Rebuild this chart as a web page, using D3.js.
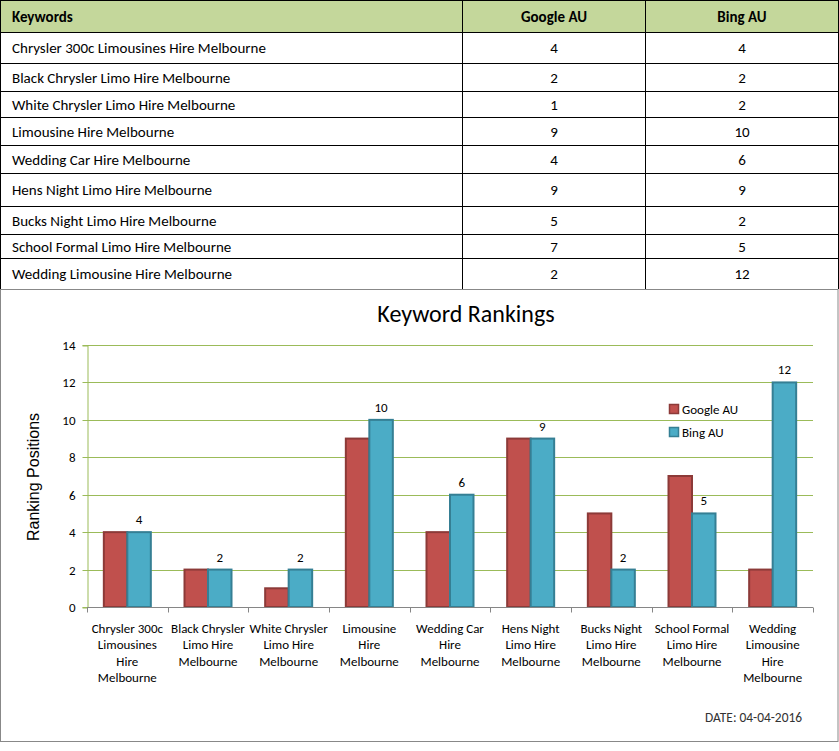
<!DOCTYPE html>
<html><head><meta charset="utf-8">
<script src="https://cdn.jsdelivr.net/npm/d3@7"></script>
<style>
html,body{margin:0;padding:0;background:#fff;}
svg{display:block;}
</style></head>
<body>
<svg id="c" width="839" height="751"></svg>
<script>
// ---------- data ----------
const keywords = [
  "Chrysler 300c Limousines Hire Melbourne",
  "Black Chrysler Limo Hire Melbourne",
  "White Chrysler Limo Hire Melbourne",
  "Limousine Hire Melbourne",
  "Wedding Car Hire Melbourne",
  "Hens Night Limo Hire Melbourne",
  "Bucks Night Limo Hire Melbourne",
  "School Formal Limo Hire Melbourne",
  "Wedding Limousine Hire Melbourne"
];
const googleAU = [4, 2, 1, 9, 4, 9, 5, 7, 2];
const bingAU   = [4, 2, 2, 10, 6, 9, 2, 5, 12];
const categoryLabels = [
  ["Chrysler 300c", "Limousines", "Hire", "Melbourne"],
  ["Black Chrysler", "Limo Hire", "Melbourne"],
  ["White Chrysler", "Limo Hire", "Melbourne"],
  ["Limousine", "Hire", "Melbourne"],
  ["Wedding Car", "Hire", "Melbourne"],
  ["Hens Night", "Limo Hire", "Melbourne"],
  ["Bucks Night", "Limo Hire", "Melbourne"],
  ["School Formal", "Limo Hire", "Melbourne"],
  ["Wedding", "Limousine", "Hire", "Melbourne"]
];
const seriesNames = ["Google AU", "Bing AU"];
const tableHeaders = ["Keywords", "Google AU", "Bing AU"];
const yTicks = [0, 2, 4, 6, 8, 10, 12, 14];
const chartTitle = "Keyword Rankings";
const yAxisTitle = "Ranking Positions";
const dateText = "DATE: 04-04-2016";

// ---------- layout ----------
const FONT = "Carlito, Calibri, Lato, sans-serif";
const svg = d3.select("#c");
const W = 839;
const colEdges = [0.5, 462.5, 645.5, 838.5];
const rowEdges = [0.5, 32.5, 63.5, 91.5, 117.5, 145.5, 173.5, 206.5, 234.5, 258.5, 289];
const red = "#C0504D", redDark = "#8C3A38";
const blue = "#4BACC6", blueDark = "#357F94";
const grid = "#9BBB59";

// ---------- table ----------
const tbl = svg.append("g");
tbl.append("rect").attr("x", 0.5).attr("y", 0.5).attr("width", 838).attr("height", 32)
  .attr("fill", "#C4D79B");
tbl.selectAll("line.h").data(rowEdges.slice(0, -1)).join("line")
  .attr("x1", 0).attr("x2", W).attr("y1", d => d).attr("y2", d => d)
  .attr("stroke", "#000").attr("stroke-width", 1);
tbl.selectAll("line.v").data(colEdges).join("line")
  .attr("x1", d => d).attr("x2", d => d).attr("y1", 0).attr("y2", 289)
  .attr("stroke", "#000").attr("stroke-width", 1);
const colCenters = [12, (colEdges[1] + colEdges[2]) / 2, (colEdges[2] + colEdges[3]) / 2];
tbl.selectAll("text.hd").data(tableHeaders).join("text")
  .attr("x", (d, i) => colCenters[i]).attr("y", 17)
  .attr("text-anchor", (d, i) => i === 0 ? "start" : "middle")
  .attr("dominant-baseline", "central")
  .attr("font-family", FONT).attr("font-size", 15).attr("font-weight", "bold")
  .attr("fill", "#000").text(d => d);
const rowsData = keywords.map((k, i) => [k, googleAU[i], bingAU[i]]);
rowsData.forEach((row, r) => {
  const cy = (rowEdges[r + 1] + rowEdges[r + 2]) / 2;
  row.forEach((v, c) => {
    tbl.append("text")
      .attr("x", colCenters[c]).attr("y", cy)
      .attr("text-anchor", c === 0 ? "start" : "middle")
      .attr("dominant-baseline", "central")
      .attr("font-family", FONT).attr("font-size", 15)
      .attr("fill", "#000").text(v);
  });
});

// ---------- chart ----------
const chart = svg.append("g");
chart.append("rect").attr("x", 0.5).attr("y", 289.5).attr("width", 837.5).attr("height", 452)
  .attr("fill", "#fff").attr("stroke", "#888").attr("stroke-width", 1);

const x = d3.scaleBand().domain(d3.range(keywords.length)).range([87, 813]).paddingInner(0).paddingOuter(0);
const y = d3.scaleLinear().domain([0, 14]).range([607, 345]);
const barW = 23.5;

chart.selectAll("line.grid").data(yTicks.filter(t => t > 0)).join("line")
  .attr("x1", 87).attr("x2", 813)
  .attr("y1", d => Math.round(y(d)) + 0.5).attr("y2", d => Math.round(y(d)) + 0.5)
  .attr("stroke", grid).attr("stroke-width", 1);

const yAxis = chart.append("g").attr("transform", "translate(87.5,0.5)")
  .call(d3.axisLeft(y).tickValues(yTicks).tickSize(5).tickPadding(7));
yAxis.select(".domain").attr("stroke", grid);
yAxis.selectAll(".tick line").attr("stroke", grid);
yAxis.selectAll(".tick").attr("transform", d => `translate(0,${Math.round(y(d))})`);
yAxis.selectAll("text").attr("font-family", FONT).attr("font-size", 13).attr("fill", "#000");

const groups = chart.selectAll("g.cat").data(keywords.map((k, i) => i)).join("g")
  .attr("transform", i => `translate(${x(i) + x.bandwidth() / 2},0)`);
groups.append("rect")
  .attr("x", -barW).attr("width", barW)
  .attr("y", i => y(googleAU[i])).attr("height", i => y(0) - y(googleAU[i]))
  .attr("fill", red).attr("stroke", redDark).attr("stroke-width", 2);
groups.append("rect")
  .attr("x", 0).attr("width", barW)
  .attr("y", i => y(bingAU[i])).attr("height", i => y(0) - y(bingAU[i]))
  .attr("fill", blue).attr("stroke", blueDark).attr("stroke-width", 2);
groups.append("text")
  .attr("x", barW / 2).attr("y", i => y(bingAU[i]) - 8)
  .attr("text-anchor", "middle")
  .attr("font-family", FONT).attr("font-size", 13).attr("fill", "#000")
  .text(i => bingAU[i]);

const xAxisG = chart.append("g").attr("transform", "translate(0,607.5)");
xAxisG.append("line").attr("x1", 87).attr("x2", 813).attr("y1", 0).attr("y2", 0)
  .attr("stroke", "#868686");
const tickXs = d3.range(keywords.length + 1).map(i => i < keywords.length ? x(i) : x(i - 1) + x.bandwidth());
xAxisG.selectAll("line.t").data(tickXs).join("line")
  .attr("x1", d => Math.round(d) + 0.5).attr("x2", d => Math.round(d) + 0.5)
  .attr("y1", 0).attr("y2", 5).attr("stroke", "#868686");
xAxisG.selectAll("text.cl").data(categoryLabels).join("text")
  .attr("x", (d, i) => x(i) + x.bandwidth() / 2)
  .attr("y", 0)
  .attr("text-anchor", "middle")
  .attr("font-family", FONT).attr("font-size", 13).attr("fill", "#000")
  .each(function (lines) {
    const t = d3.select(this);
    lines.forEach((ln, j) => {
      t.append("tspan").attr("x", t.attr("x")).attr("y", 25.5 + j * 16.3).text(ln);
    });
  });

chart.append("text").attr("x", 466).attr("y", 322).attr("text-anchor", "middle")
  .attr("font-family", FONT).attr("font-size", 24).attr("fill", "#000").text(chartTitle);

chart.append("text").attr("transform", "translate(39,477) rotate(-90)")
  .attr("text-anchor", "middle")
  .attr("font-family", "Liberation Sans, Arial, sans-serif").attr("font-size", 16).attr("fill", "#000")
  .text(yAxisTitle);

const legend = chart.append("g").attr("transform", "translate(669,404)");
const legColors = [[red, redDark], [blue, blueDark]];
seriesNames.forEach((s, i) => {
  const g = legend.append("g").attr("transform", `translate(0,${i * 23})`);
  g.append("rect").attr("x", 0.5).attr("y", 0.5).attr("width", 9).attr("height", 9)
    .attr("fill", legColors[i][0]).attr("stroke", legColors[i][1]).attr("stroke-width", 1.5);
  g.append("text").attr("x", 13).attr("y", 5).attr("dominant-baseline", "central")
    .attr("font-family", FONT).attr("font-size", 13).attr("fill", "#000").text(s);
});

chart.append("text").attr("x", 802).attr("y", 722).attr("text-anchor", "end")
  .attr("font-family", FONT).attr("font-size", 13.4).attr("fill", "#333").text(dateText);
</script>
</body></html>
